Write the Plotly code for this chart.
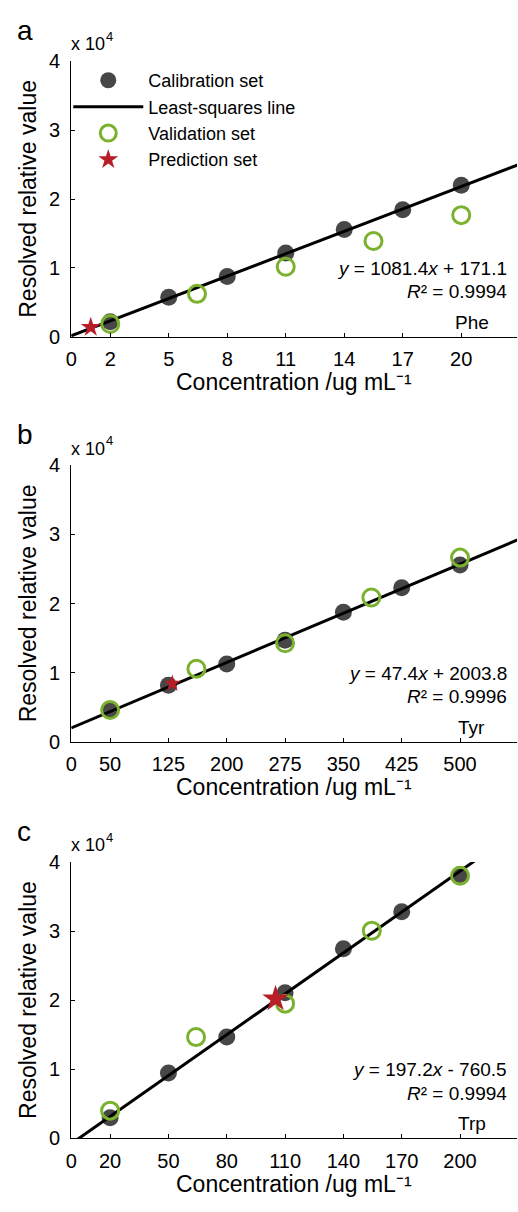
import plotly.graph_objects as go

W, H = 518, 1212
FONT = "Liberation Sans, Arial, sans-serif"

# ---------------- data ----------------
# Panel a: Phe
phe_cal_x = [2, 5, 8, 11, 14, 17, 20]
phe_cal_y = [2200, 5770, 8760, 12170, 15570, 18460, 22010]
phe_val_x = [2, 6.45, 11, 15.5, 20]
phe_val_y = [1890, 6250, 10180, 13920, 17660]
phe_pred_x = [1.0]
phe_pred_y = [1420]
phe_fit = (1081.4, 171.1, "0.9994")
phe_ticks = [0, 2, 5, 8, 11, 14, 17, 20]

# Panel b: Tyr
tyr_cal_x = [50, 125, 200, 275, 350, 425, 500]
tyr_cal_y = [4540, 8190, 11270, 14700, 18750, 22300, 25560]
tyr_val_x = [50, 161, 275, 386, 500]
tyr_val_y = [4600, 10560, 14250, 20880, 26650]
tyr_pred_x = [130]
tyr_pred_y = [8430]
tyr_fit = (47.4, 2003.8, "0.9996")
tyr_ticks = [0, 50, 125, 200, 275, 350, 425, 500]

# Panel c: Trp
trp_cal_x = [20, 50, 80, 110, 140, 170, 200]
trp_cal_y = [2980, 9470, 14670, 21070, 27460, 32800, 38200]
trp_val_x = [20, 64.2, 110, 154.6, 200]
trp_val_y = [4020, 14670, 19500, 30060, 38000]
trp_pred_x = [105.1]
trp_pred_y = [20200]
trp_fit = (197.2, -760.5, "0.9994")
trp_ticks = [0, 20, 50, 80, 110, 140, 170, 200]

y_ticks = [0, 10000, 20000, 30000, 40000]
y_ticktext = ["0", "1", "2", "3", "4"]

# ---------------- styles ----------------
C_CAL = "#474747"
C_VAL = "#7ab22e"
C_PRED = "#b71e27"


def px(x):
    return x / W


def py(y):
    return 1 - y / H


panels = [
    dict(name="Phe", letter="a", cal=(phe_cal_x, phe_cal_y), val=(phe_val_x, phe_val_y),
         pred=(phe_pred_x, phe_pred_y), fit=phe_fit, ticks=phe_ticks,
         xrange=[0, 22.86], line_x=[0, 23.5], y0=332, y1=51, star=15, legend=True),
    dict(name="Tyr", letter="b", cal=(tyr_cal_x, tyr_cal_y), val=(tyr_val_x, tyr_val_y),
         pred=(tyr_pred_x, tyr_pred_y), fit=tyr_fit, ticks=tyr_ticks,
         xrange=[0, 573.3], line_x=[0, 580], y0=744.3, y1=462.7, star=13, legend=False),
    dict(name="Trp", letter="c", cal=(trp_cal_x, trp_cal_y), val=(trp_val_x, trp_val_y),
         pred=(trp_pred_x, trp_pred_y), fit=trp_fit, ticks=trp_ticks,
         xrange=[0, 229.3], line_x=[0, 208], y0=1148.3, y1=866.7, star=20, legend=False),
]

fig = go.Figure()
annotations = []
X0, X1 = 66, 517

for i, p in enumerate(panels):
    k = "" if i == 0 else str(i + 1)
    xa, ya = "x" + k, "y" + k
    slope, icpt, r2 = p["fit"]
    lx = p["line_x"]
    ly = [slope * v + icpt for v in lx]

    fig.add_trace(go.Scatter(x=p["cal"][0], y=p["cal"][1], mode="markers", name="Calibration set",
                             marker=dict(size=17, color=C_CAL, line=dict(width=0)),
                             xaxis=xa, yaxis=ya, showlegend=p["legend"], cliponaxis=False))
    fig.add_trace(go.Scatter(x=lx, y=ly, mode="lines", name="Least-squares line",
                             line=dict(color="black", width=3),
                             xaxis=xa, yaxis=ya, showlegend=p["legend"]))
    fig.add_trace(go.Scatter(x=p["val"][0], y=p["val"][1], mode="markers", name="Validation set",
                             marker=dict(size=17, symbol="circle-open", color=C_VAL, line=dict(width=3, color=C_VAL)),
                             xaxis=xa, yaxis=ya, showlegend=p["legend"], cliponaxis=False))
    fig.add_trace(go.Scatter(x=p["pred"][0], y=p["pred"][1], mode="markers", name="Prediction set",
                             marker=dict(size=p["star"], symbol="star", color=C_PRED, line=dict(width=0)),
                             xaxis=xa, yaxis=ya, showlegend=p["legend"], cliponaxis=False))

    axis_common = dict(showline=True, linecolor="black", linewidth=1.2, ticks="inside", ticklen=4,
                       tickwidth=1, tickcolor="black", showgrid=False, zeroline=False,
                       tickfont=dict(family=FONT, size=20, color="black"))
    fig.update_layout(**{
        "xaxis" + k: dict(domain=[px(X0), px(X1)], range=p["xrange"], anchor=ya,
                          tickmode="array", tickvals=p["ticks"], ticktext=[str(t) for t in p["ticks"]],
                          ticklabelstandoff=4, **axis_common),
        "yaxis" + k: dict(domain=[py(p["y0"]), py(p["y1"])], range=[0, 40000], anchor=xa,
                          tickmode="array", tickvals=y_ticks, ticktext=y_ticktext,
                          ticklabelstandoff=6, **axis_common),
    })

    y0, y1 = p["y0"], p["y1"]
    sign = "+" if icpt >= 0 else "-"
    annotations += [
        dict(text=p["letter"], x=px(9), y=py(y1 - 31), xanchor="left", yanchor="middle",
             font=dict(size=28)),
        dict(text="x 10", x=px(64), y=py(y1 - 17), xanchor="left", yanchor="middle",
             font=dict(size=18)),
        dict(text="4", x=px(99), y=py(y1 - 25), xanchor="left", yanchor="middle",
             font=dict(size=13)),
        dict(text="Resolved relative value", textangle=-90, x=px(22), y=py((y0 + y1) / 2),
             xanchor="center", yanchor="middle", font=dict(size=23)),
        dict(text="Concentration /ug mL\u207b\u00b9", x=px((X0 + X1) / 2), y=py(y0 + 46),
             xanchor="center", yanchor="middle", font=dict(size=23)),
        dict(text=f"<i>y</i> = {slope}<i>x</i> {sign} {abs(icpt)}", x=px(509), y=py(y0 - 70),
             xanchor="right", yanchor="middle", font=dict(size=19)),
        dict(text=f"<i>R</i>\u00b2 = {r2}", x=px(509), y=py(y0 - 46),
             xanchor="right", yanchor="middle", font=dict(size=19)),
        dict(text=p["name"], x=px(471), y=py(y0 - 15), xanchor="center", yanchor="middle",
             font=dict(size=19)),
    ]

for a in annotations:
    a.update(xref="paper", yref="paper", showarrow=False)
    a["font"].update(family=FONT, color="black")

fig.update_layout(
    width=W, height=H, margin=dict(l=0, r=0, t=0, b=0),
    paper_bgcolor="white", plot_bgcolor="white",
    font=dict(family=FONT, color="black"),
    annotations=annotations,
    legend=dict(x=px(63), y=py(52), xanchor="left", yanchor="top", bgcolor="rgba(0,0,0,0)",
                borderwidth=0, font=dict(family=FONT, size=18, color="black"),
                itemwidth=70, tracegroupgap=0),
)

fig.write_html("out.html", config={"displayModeBar": False},
               post_script="document.body.style.margin='0';document.body.style.overflow='hidden';")
